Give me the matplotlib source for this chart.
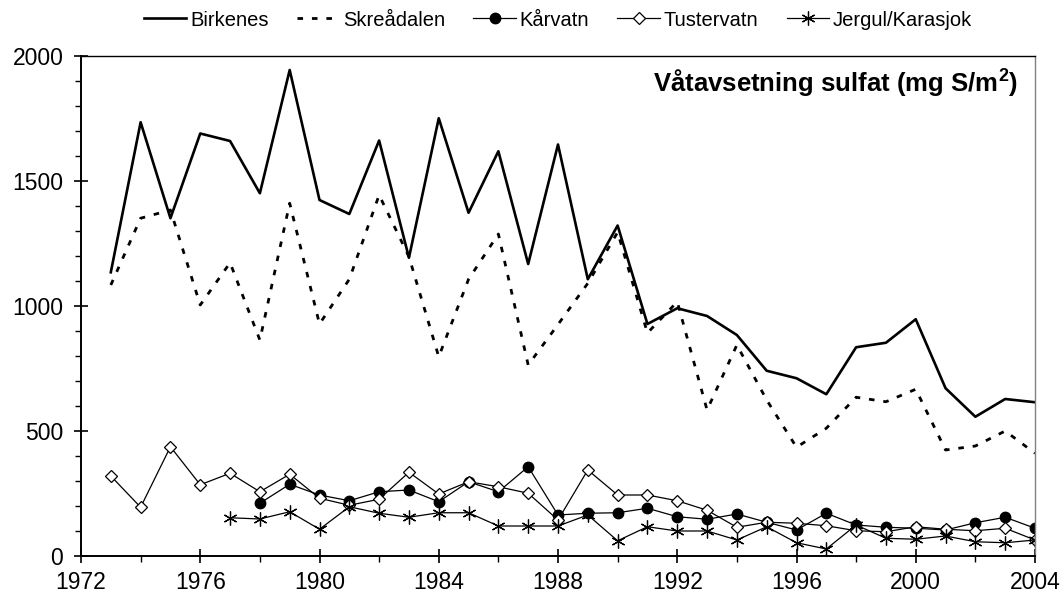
import numpy as np
import matplotlib
matplotlib.use('Agg')
import matplotlib.pyplot as plt
from matplotlib.ticker import MultipleLocator

plt.rcParams['font.family'] = ['Liberation Sans', 'DejaVu Sans']
plt.rcParams['mathtext.fontset'] = 'custom'
plt.rcParams['mathtext.rm'] = 'Liberation Sans'
plt.rcParams['mathtext.bf'] = 'Liberation Sans:bold'

# wet deposition of sulphate, mg S/m2
years_birk = list(range(1973, 2005))
birkenes = [1135, 1735, 1351, 1690, 1660, 1451, 1944, 1424, 1368, 1662,
            1193, 1751, 1373, 1619, 1168, 1646, 1107, 1322, 928, 991,
            960, 884, 741, 711, 647, 835, 853, 947, 671, 557, 628, 615]
skreadalen = [1084, 1351, 1384, 1004, 1173, 864, 1411, 928, 1107, 1444,
              1197, 797, 1107, 1288, 764, 926, 1091, 1295, 892, 1017,
              584, 844, 624, 435, 511, 635, 617, 667, 424, 440, 500, 411]

years_tust = list(range(1973, 2005))
tustervatn = [320, 195, 437, 285, 331, 257, 327, 231, 203, 227,
              335, 248, 297, 277, 251, 144, 344, 244, 244, 221,
              183, 115, 135, 131, 121, 101, 97, 117, 107, 101, 111, 64]

years_karv = list(range(1978, 2005))
karvatn = [211, 287, 244, 221, 257, 264, 217, 297, 257, 357,
           164, 171, 173, 191, 157, 147, 168, 135, 104, 171,
           124, 115, 111, 104, 133, 155, 111]

years_jerg = list(range(1977, 2005))
jergul = [153, 148, 177, 107, 197, 171, 155, 173, 173, 120,
          120, 120, 164, 61, 117, 100, 100, 64, 117, 53,
          28, 124, 71, 67, 80, 57, 53, 64]

fig = plt.figure(figsize=(10.64, 6.02), dpi=100)
ax = fig.add_axes([81/1064, 46/602, 954/1064, 500/602])

ax.plot(years_birk, birkenes, color='black', lw=1.9, label='Birkenes')
ax.plot(years_birk, skreadalen, color='black', lw=2.0,
        linestyle=(0, (2.0, 3.2)), label='Skreådalen')
ax.plot(years_karv, karvatn, color='black', lw=0.9, marker='o',
        markersize=7.5, markerfacecolor='black', label='Kårvatn')
ax.plot(years_tust, tustervatn, color='black', lw=0.9, marker='D',
        markersize=6, markerfacecolor='white', markeredgewidth=0.9,
        label='Tustervatn')
ax.plot(years_jerg, jergul, color='black', lw=0.9, marker=(6, 2, 0),
        markersize=10, markeredgewidth=0.9, label='Jergul/Karasjok')

ax.set_xlim(1972, 2004)
ax.set_ylim(0, 2000)
ax.xaxis.set_major_locator(MultipleLocator(4))
ax.xaxis.set_minor_locator(MultipleLocator(2))
ax.yaxis.set_major_locator(MultipleLocator(500))
ax.yaxis.set_minor_locator(MultipleLocator(100))
ax.tick_params(which='major', direction='inout', length=9.5, width=1.2,
               labelsize=16.5, pad=6)
ax.tick_params(which='minor', direction='out', length=4.5, width=1.0)
ax.tick_params(axis='y', which='major', pad=8)

for s in ['left', 'bottom']:
    ax.spines[s].set_linewidth(1.4)
ax.spines['top'].set_linewidth(1.0)
ax.spines['right'].set_linewidth(1.0)
ax.spines['right'].set_color('#808080')

ax.text(0.982, 0.946, r'Våtavsetning sulfat (mg S/m$^\mathbf{2}$)',
        transform=ax.transAxes, ha='right', va='center', fontsize=18.5,
        fontweight='bold')

ax.legend(loc='center', bbox_to_anchor=(0.5, (602 - 20 - 46) / 500), ncol=5,
          frameon=False, fontsize=14.5, handlelength=2.1, handletextpad=0.2,
          columnspacing=1.4, borderaxespad=0)

fig.savefig('out.png', dpi=100)
